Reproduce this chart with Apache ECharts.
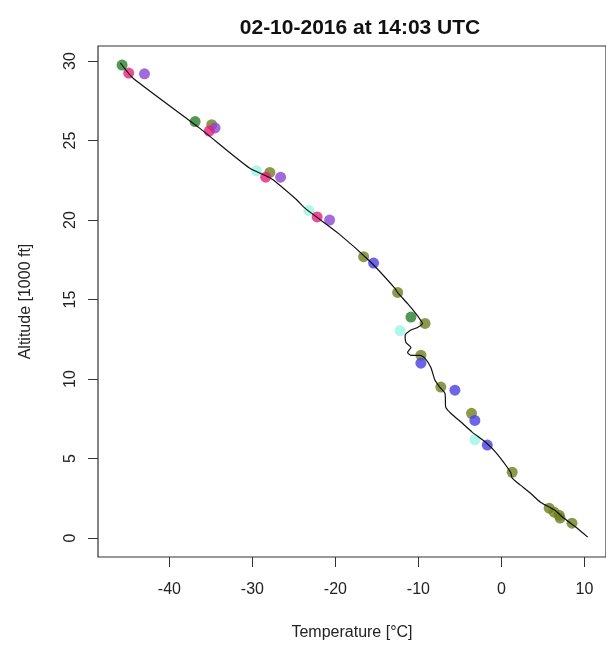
<!DOCTYPE html>
<html>
<head>
<meta charset="utf-8">
<script src="https://cdn.jsdelivr.net/npm/echarts@6/dist/echarts.min.js"></script>
<style>html,body{margin:0;padding:0;background:#fff}#chart{width:606px;height:646px}</style>
</head>
<body>
<div id="chart"></div>
<script>
const titleText = '02-10-2016 at 14:03 UTC';
const xName = 'Temperature [°C]';
const yName = 'Altitude [1000 ft]';
const xTicks = [-40, -30, -20, -10, 0, 10];
const yTicks = [0, 5, 10, 15, 20, 25, 30];

// sounding profile (temperature, altitude)
const profileTemp = [-45.9, -44.4, -36.4, -30.4, -27.7, -24.8, -23.6, -19.6, -15.7, -12.8, -12.5, -11.3, -10.3, -9.7, -9.5, -10.1, -11.0, -11.6, -11.5, -10.9, -11.3, -10.9, -9.8, -9.2, -8.5, -8.0, -7.4, -6.8, -6.7, -6.1, -4.7, -3.5, -1.9, -0.7, 1.1, 1.3, 2.3, 3.5, 4.7, 6.4, 7.5, 9.1, 10.4];
const profileAlt  = [29.88, 28.94, 25.80, 23.29, 22.60, 21.34, 20.72, 19.15, 17.33, 15.69, 15.44, 14.75, 14.12, 13.68, 13.50, 13.25, 13.06, 12.74, 12.30, 11.99, 11.68, 11.49, 11.49, 11.30, 10.73, 9.92, 9.48, 9.10, 8.22, 7.85, 7.22, 6.65, 6.03, 5.40, 4.14, 3.77, 3.33, 2.82, 2.26, 1.76, 1.26, 0.63, 0.06];

// observations [temperature, altitude]
const greenObs  = [[-45.7, 29.75], [-36.9, 26.2], [-10.9, 13.9]];
const pinkObs   = [[-44.9, 29.25], [-35.2, 25.6], [-28.4, 22.7], [-22.2, 20.2]];
const purpleObs = [[-43.0, 29.2], [-34.5, 25.8], [-26.6, 22.7], [-20.7, 20.0]];
const oliveObs  = [[-34.9, 26.0], [-27.9, 23.0], [-16.6, 17.7], [-12.5, 15.45], [-9.2, 13.5], [-9.7, 11.5], [-7.3, 9.5], [-3.6, 7.85], [1.3, 4.14], [5.75, 1.88], [6.35, 1.63], [6.95, 1.44], [7.07, 1.26], [8.5, 0.94]];
const blueObs   = [[-15.4, 17.3], [-9.7, 11.0], [-5.6, 9.3], [-3.2, 7.4], [-1.7, 5.85]];
const cyanObs   = [[-29.5, 23.1], [-23.2, 20.6], [-12.2, 13.05], [-3.2, 6.2]];

const font = 'Liberation Sans, Arial, Helvetica, sans-serif';
const chart = echarts.init(document.getElementById('chart'), null, {renderer: 'canvas'});

function obsSeries(data, color) {
  return {type: 'scatter', data: data, symbol: 'circle', symbolSize: 11, z: 2,
    itemStyle: {color: color}, silent: true};
}

chart.setOption({
  animation: false,
  backgroundColor: '#fff',
  title: {text: titleText, left: 355, top: 13, textAlign: 'center',
    textStyle: {fontFamily: font, fontSize: 21, fontWeight: 'bold', color: '#111'}},
  grid: {left: 98, top: 46, width: 511, height: 512, show: true, borderColor: '#333', borderWidth: 1.2, backgroundColor: 'transparent'},
  xAxis: {type: 'value', min: -48.6, max: 12.6,
    name: xName, nameLocation: 'middle', nameGap: 68,
    nameTextStyle: {fontFamily: font, fontSize: 16, color: '#222'},
    axisLine: {show: false, onZero: false}, splitLine: {show: false},
    axisTick: {show: true, inside: false, customValues: xTicks, length: 10, lineStyle: {color: '#333', width: 1}},
    axisLabel: {customValues: xTicks, fontFamily: font, fontSize: 16, color: '#222', margin: 25}},
  yAxis: {type: 'value', min: -1.19, max: 30.95,
    name: yName, nameLocation: 'middle', nameGap: 64, nameRotate: 90,
    nameTextStyle: {fontFamily: font, fontSize: 16, color: '#222'},
    axisLine: {show: false, onZero: false}, splitLine: {show: false},
    axisTick: {show: true, inside: false, customValues: yTicks, length: 10, lineStyle: {color: '#333', width: 1}},
    axisLabel: {customValues: yTicks, rotate: 90, fontFamily: font, fontSize: 16, color: '#222', margin: 19}},
  series: [
    obsSeries(oliveObs, '#6e7f1f'),
    obsSeries(blueObs, '#4a3fe0'),
    obsSeries(cyanObs, 'rgba(110,240,215,0.7)'),
    obsSeries(purpleObs, '#8c45d6'),
    obsSeries(greenObs, '#27802c'),
    obsSeries(pinkObs, '#e3207c'),
    {type: 'line', z: 5, symbol: 'none', silent: true, smooth: 0.2,
      data: profileTemp.map((t, i) => [t, profileAlt[i]]),
      lineStyle: {color: '#111', width: 1.2}}
  ]
});
</script>
</body>
</html>
